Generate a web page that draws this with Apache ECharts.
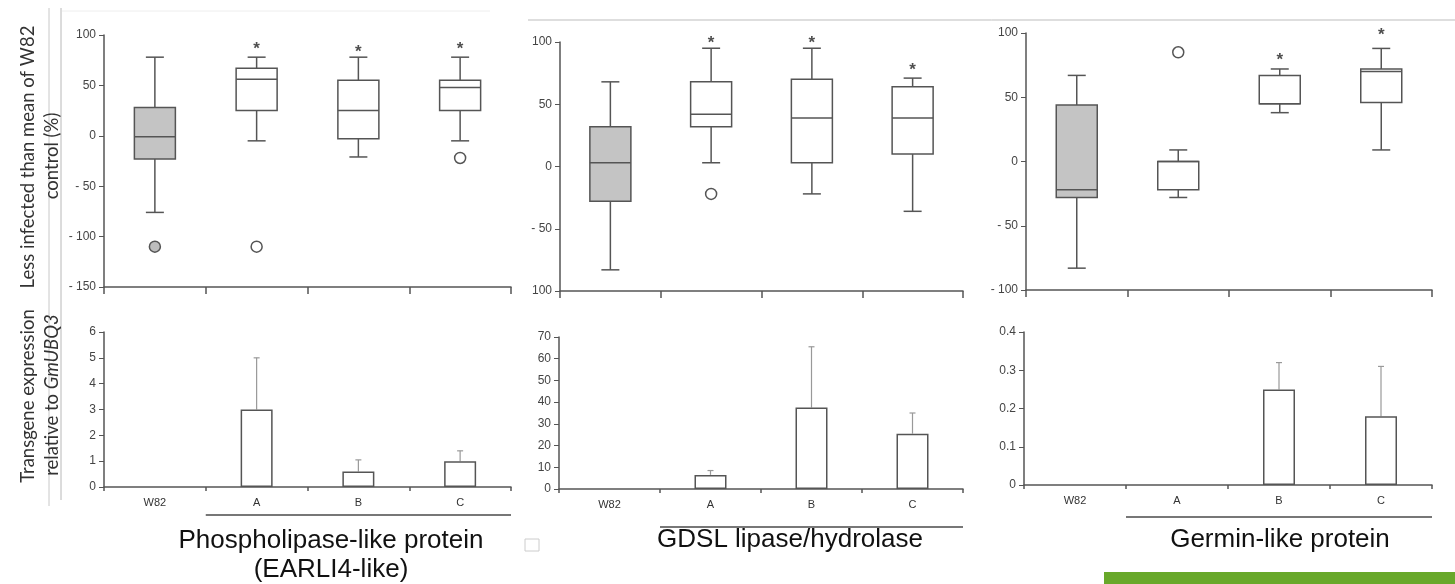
<!DOCTYPE html>
<html>
<head>
<meta charset="utf-8">
<script src="https://cdn.jsdelivr.net/npm/echarts@6/dist/echarts.min.js"></script>
<style>
html, body { margin: 0; padding: 0; background: #fff; }
#main { width: 1455px; height: 584px; }
</style>
</head>
<body>
<div id="main"></div>
<script>
// categories (W82 = control, A/B/C = transgenic lines)
const cats = ['W82', 'A', 'B', 'C'];

// box plots: [min, Q1, median, Q3, max]
const boxPL = [[-76, -23, -1, 28, 78], [-5, 25, 56, 67, 78], [-21, -3, 25, 55, 78], [-5, 25, 48, 55, 78]];
const boxGD = [[-83, -28, 3, 32, 68], [3, 32, 42, 68, 95], [-22, 3, 39, 70, 95], [-36, 10, 39, 64, 71]];
const boxGM = [[-83, -28, -22, 44, 67], [-28, -22, 0, 0, 9], [38, 45, 45, 67, 72], [9, 46, 70, 72, 88]];

// outliers [category index, value]
const outPL = [[0, -110], [1, -110], [3, -22]];
const outGD = [[1, -22]];
const outGM = [[1, 85]];

// significance stars [category index, value]
const starPL = [[1, 91], [2, 88], [3, 91]];
const starGD = [[1, 103], [2, 103], [3, 81]];
const starGM = [[2, 83], [3, 102]];

// transgene expression (mean) and top of error bar
const barPL = [0, 3.0, 0.6, 1.0];
const errPL = [0, 5.0, 1.05, 1.4];
const barGD = [0, 6.5, 37.5, 25.5];
const errGD = [0, 8.5, 65.5, 35];
const barGM = [0, 0, 0.25, 0.18];
const errGM = [0, 0, 0.32, 0.31];

// tick labels as printed
const ticksPL = ['- 150', '- 100', '- 50', '0', '50', '100'];
const ticksGD = ['100', '- 50', '0', '50', '100'];
const ticksGM = ['- 100', '- 50', '0', '50', '100'];
const ticksPLb = ['0', '1', '2', '3', '4', '5', '6'];
const ticksGDb = ['0', '10', '20', '30', '40', '50', '60', '70'];
const ticksGMb = ['0', '0.1', '0.2', '0.3', '0.4'];

const panelTitles = ['Phospholipase-like protein\n(EARLI4-like)', 'GDSL lipase/hydrolase', 'Germin-like protein'];

let chart = echarts.init(document.getElementById('main'));

const axisCol = '#555';
const grids = [
	{ left: 104, top: 35, width: 407, height: 252 },
	{ left: 560, top: 42, width: 403, height: 249 },
	{ left: 1026, top: 33, width: 406, height: 257 },
	{ left: 104, top: 332, width: 407, height: 155 },
	{ left: 559, top: 337, width: 404, height: 152 },
	{ left: 1024, top: 332, width: 408, height: 153 }
];

function xAxisFor(i, showLabel) {
	return {
		type: 'category', gridIndex: i, data: cats,
		axisLine: { onZero: false, lineStyle: { color: axisCol, width: 1.5 } },
		axisTick: { show: true, length: showLabel ? 4 : 7, lineStyle: { color: axisCol, width: 1.5 } },
		axisLabel: {
			show: showLabel, color: '#333', fontSize: 11, margin: 10,
			fontFamily: 'Liberation Sans Narrow, Liberation Sans, Arial'
		}
	};
}

function yAxisFor(i, min, max, interval, ticks) {
	return {
		type: 'value', gridIndex: i, min: min, max: max, interval: interval,
		splitLine: { show: false },
		axisLine: { show: true, lineStyle: { color: axisCol, width: 1.5 } },
		axisTick: { show: true, length: 5, lineStyle: { color: axisCol } },
		axisLabel: {
			color: '#444', fontSize: 12, margin: 8, fontFamily: 'Liberation Sans, Arial',
			formatter: (v, idx) => ticks[idx]
		}
	};
}

// box with narrow whisker caps
function renderBox(params, api) {
	let idx = api.value(0);
	let lo = api.coord([idx, api.value(1)]);
	let q1 = api.coord([idx, api.value(2)]);
	let md = api.coord([idx, api.value(3)]);
	let q3 = api.coord([idx, api.value(4)]);
	let hi = api.coord([idx, api.value(5)]);
	let x = lo[0];
	let bw = 41, cw = 18;
	let ln = { stroke: axisCol, lineWidth: 1.5 };
	return {
		type: 'group',
		children: [
			{ type: 'line', shape: { x1: x, y1: hi[1], x2: x, y2: q3[1] }, style: ln },
			{ type: 'line', shape: { x1: x, y1: q1[1], x2: x, y2: lo[1] }, style: ln },
			{ type: 'line', shape: { x1: x - cw / 2, y1: hi[1], x2: x + cw / 2, y2: hi[1] }, style: ln },
			{ type: 'line', shape: { x1: x - cw / 2, y1: lo[1], x2: x + cw / 2, y2: lo[1] }, style: ln },
			{ type: 'rect', shape: { x: x - bw / 2, y: q3[1], width: bw, height: q1[1] - q3[1] },
				style: { fill: idx === 0 ? '#c4c4c4' : '#fff', stroke: axisCol, lineWidth: 1.5 } },
			{ type: 'line', shape: { x1: x - bw / 2, y1: md[1], x2: x + bw / 2, y2: md[1] }, style: ln }
		]
	};
}

// upward-only error bar
function renderErr(params, api) {
	let idx = api.value(0);
	let base = api.coord([idx, api.value(1)]);
	let top = api.coord([idx, api.value(2)]);
	let st = { stroke: '#999', lineWidth: 1.2 };
	return {
		type: 'group',
		children: [
			{ type: 'line', shape: { x1: base[0], y1: base[1], x2: top[0], y2: top[1] }, style: st },
			{ type: 'line', shape: { x1: top[0] - 3, y1: top[1], x2: top[0] + 3, y2: top[1] }, style: st }
		]
	};
}

function boxSeries(i, data) {
	return {
		type: 'custom', xAxisIndex: i, yAxisIndex: i,
		renderItem: renderBox,
		encode: { x: 0, y: [1, 2, 3, 4, 5] },
		data: data.map((b, k) => [k].concat(b)),
		clip: false,
		z: 3
	};
}

function outlierSeries(i, data) {
	return {
		type: 'scatter', xAxisIndex: i, yAxisIndex: i, symbol: 'circle', symbolSize: 11,
		clip: false,
		itemStyle: {
			color: p => p.data[0] === 0 ? '#bdbdbd' : '#fff',
			borderColor: axisCol, borderWidth: 1.5, opacity: 1
		},
		data: data, z: 4
	};
}

function starSeries(i, data) {
	return {
		type: 'scatter', xAxisIndex: i, yAxisIndex: i, symbolSize: 1,
		clip: false,
		itemStyle: { color: 'rgba(0,0,0,0)' },
		label: {
			show: true, position: 'inside', formatter: '*', offset: [0, 5],
			color: '#222', fontSize: 17, fontWeight: 'bold', fontFamily: 'Liberation Sans, Arial'
		},
		data: data, z: 4
	};
}

function barSeries(i, vals) {
	return {
		type: 'bar', xAxisIndex: i, yAxisIndex: i, barWidth: 32,
		itemStyle: { color: '#fff', borderColor: axisCol, borderWidth: 1.5 },
		data: vals.map(v => v || '-')
	};
}

function errSeries(i, vals, errs) {
	return {
		type: 'custom', xAxisIndex: i, yAxisIndex: i,
		renderItem: renderErr,
		encode: { x: 0, y: [1, 2] },
		data: vals.map((v, k) => [k, v, errs[k]]).filter(d => d[2] > d[1]),
		z: 1
	};
}

let textStyle = { fill: '#333', fontSize: 18.5, fontFamily: 'Lato, Open Sans', align: 'center', verticalAlign: 'middle' };
let titleStyle = { fill: '#111', fontSize: 26, fontFamily: 'Liberation Sans, Arial', align: 'center', verticalAlign: 'middle', lineHeight: 29 };

let graphic = [
	// stray frame lines from the composed figure
	{ type: 'line', shape: { x1: 49, y1: 8, x2: 49, y2: 506 }, style: { stroke: '#c8c8c8', lineWidth: 1 } },
	{ type: 'line', shape: { x1: 61, y1: 8, x2: 61, y2: 500 }, style: { stroke: '#b8b8b8', lineWidth: 1 } },
	{ type: 'line', shape: { x1: 62, y1: 11, x2: 490, y2: 11 }, style: { stroke: '#eeeeee', lineWidth: 1 } },
	{ type: 'line', shape: { x1: 528, y1: 20, x2: 1455, y2: 20 }, style: { stroke: '#bdbdbd', lineWidth: 1 } },
	{ type: 'rect', shape: { x: 525, y: 539, width: 14, height: 12 }, style: { fill: '#fff', stroke: '#cccccc', lineWidth: 1 } },
	{ type: 'rect', shape: { x: 1104, y: 572, width: 351, height: 12 }, style: { fill: '#68a82a' } },
	// axis titles
	{ type: 'text', x: 28, y: 157, rotation: Math.PI / 2, style: Object.assign({ text: 'Less infected than mean of W82' }, textStyle) },
	{ type: 'text', x: 52, y: 156, rotation: Math.PI / 2, style: Object.assign({ text: 'control (%)' }, textStyle) },
	{ type: 'text', x: 28, y: 396, rotation: Math.PI / 2, style: Object.assign({ text: 'Transgene expression' }, textStyle) },
	{ type: 'text', x: 52, y: 395, rotation: Math.PI / 2, style: Object.assign({
		text: 'relative to {i|GmUBQ3}',
		rich: { i: { fontStyle: 'italic', fontSize: 18.5, fontFamily: 'Lato, Open Sans', fill: '#333' } }
	}, textStyle) },
	// panel titles
	{ type: 'text', x: 331, y: 555, style: Object.assign({ text: panelTitles[0] }, titleStyle) },
	{ type: 'text', x: 790, y: 540, style: Object.assign({ text: panelTitles[1] }, titleStyle) },
	{ type: 'text', x: 1280, y: 540, style: Object.assign({ text: panelTitles[2] }, titleStyle) }
];

// line under the transgenic lines A..C
let underY = [515, 527, 517];
[3, 4, 5].forEach((g, k) => {
	let gr = grids[g];
	let x1 = gr.left + gr.width / cats.length;
	graphic.push({ type: 'line', shape: { x1: x1, y1: underY[k], x2: gr.left + gr.width, y2: underY[k] },
		style: { stroke: '#777', lineWidth: 2 } });
});

let option = {
	animation: false,
	grid: grids,
	xAxis: [
		xAxisFor(0, false), xAxisFor(1, false), xAxisFor(2, false),
		xAxisFor(3, true), xAxisFor(4, true), xAxisFor(5, true)
	],
	yAxis: [
		yAxisFor(0, -150, 100, 50, ticksPL),
		yAxisFor(1, -100, 100, 50, ticksGD),
		yAxisFor(2, -100, 100, 50, ticksGM),
		yAxisFor(3, 0, 6, 1, ticksPLb),
		yAxisFor(4, 0, 70, 10, ticksGDb),
		yAxisFor(5, 0, 0.4, 0.1, ticksGMb)
	],
	series: [
		boxSeries(0, boxPL), outlierSeries(0, outPL), starSeries(0, starPL),
		boxSeries(1, boxGD), outlierSeries(1, outGD), starSeries(1, starGD),
		boxSeries(2, boxGM), outlierSeries(2, outGM), starSeries(2, starGM),
		barSeries(3, barPL), errSeries(3, barPL, errPL),
		barSeries(4, barGD), errSeries(4, barGD, errGD),
		barSeries(5, barGM), errSeries(5, barGM, errGM)
	],
	graphic: graphic
};
chart.setOption(option);
</script>
</body>
</html>
